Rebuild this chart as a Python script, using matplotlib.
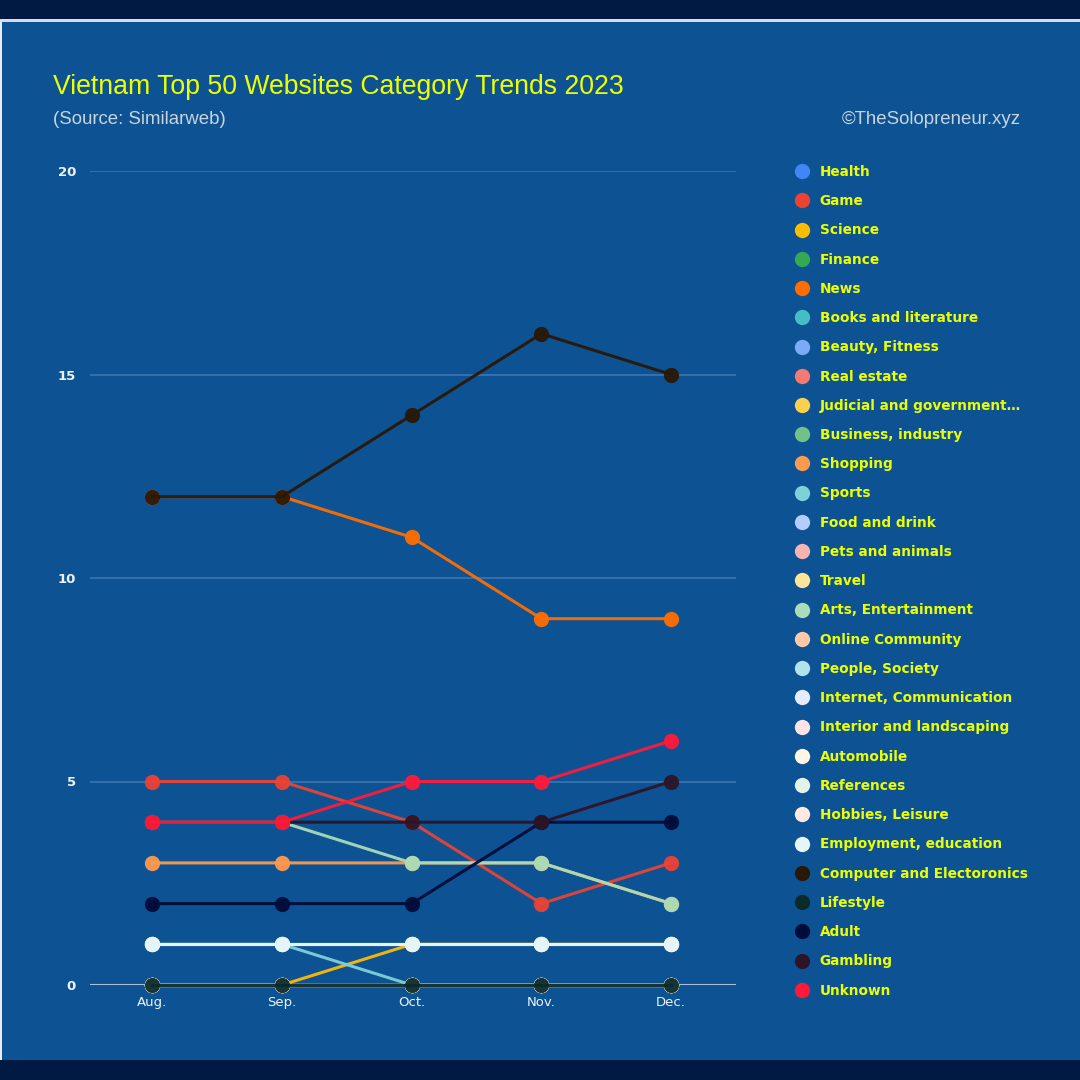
import numpy as np
import matplotlib
matplotlib.use("Agg")
import matplotlib.pyplot as plt
from matplotlib.patches import Rectangle
from matplotlib.lines import Line2D

months = ["Aug.", "Sep.", "Oct.", "Nov.", "Dec."]
categories = [
    "Health", "Game", "Science", "Finance", "News", "Books and literature",
    "Beauty, Fitness", "Real estate", "Judicial and government…", "Business, industry",
    "Shopping", "Sports", "Food and drink", "Pets and animals", "Travel",
    "Arts, Entertainment", "Online Community", "People, Society",
    "Internet, Communication", "Interior and landscaping", "Automobile", "References",
    "Hobbies, Leisure", "Employment, education", "Computer and Electoronics",
    "Lifestyle", "Adult", "Gambling", "Unknown",
]
colors = [
    "#4285f4", "#ea4335", "#fbbc04", "#34a853", "#ff6d01", "#46bdc6",
    "#7baaf7", "#f07b72", "#fcd04f", "#71c287", "#ff994d", "#7ed1d7",
    "#b3cefb", "#f7b4ae", "#fde49b", "#aadcb7", "#ffc8a6", "#b2e2ea",
    "#e3ecfe", "#fce4e6", "#fff6e6", "#e4f3ea", "#ffe9e2", "#e6f6f8",
    "#2a1806", "#0b2a2a", "#000c3a", "#2e1426", "#ff1a3a",
]
values = {
    "Game":                      [5, 5, 4, 2, 3],
    "Science":                   [0, 0, 1, 1, 1],
    "News":                      [12, 12, 11, 9, 9],
    "Shopping":                  [3, 3, 3, 3, 2],
    "Sports":                    [1, 1, 0, 0, 0],
    "Arts, Entertainment":       [4, 4, 3, 3, 2],
    "Internet, Communication":   [1, 1, 1, 1, 1],
    "References":                [1, 1, 1, 1, 1],
    "Employment, education":     [1, 1, 1, 1, 1],
    "Computer and Electoronics": [12, 12, 14, 16, 15],
    "Lifestyle":                 [0, 0, 0, 0, 0],
    "Adult":                     [2, 2, 2, 4, 4],
    "Gambling":                  [4, 4, 4, 4, 5],
    "Unknown":                   [4, 4, 5, 5, 6],
}
y_ticks = [0, 5, 10, 15, 20]

BG = "#0d5394"
DARK = "#001a44"
NARROW = ["Liberation Sans Narrow", "Liberation Sans"]

fig = plt.figure(figsize=(10.8, 10.8), dpi=100, facecolor=BG)
fig.patches.append(Rectangle((0, 1 - 19/1080), 1, 19/1080, transform=fig.transFigure,
                             facecolor=DARK, edgecolor="none", zorder=0))
fig.patches.append(Rectangle((0, 1 - 22/1080), 1, 3/1080, transform=fig.transFigure,
                             facecolor="#d8dde4", edgecolor="none", zorder=0))
fig.patches.append(Rectangle((0, 0), 1, 20/1080, transform=fig.transFigure,
                             facecolor=DARK, edgecolor="none", zorder=0))
fig.patches.append(Rectangle((0, 20/1080), 2/1080, 1 - 42/1080, transform=fig.transFigure,
                             facecolor="#e8edf3", edgecolor="none", zorder=0))

ax = fig.add_axes([90/1080, 95/1080, 646/1080, 814/1080])
ax.set_facecolor(BG)
x = np.arange(len(months))
for i, cat in enumerate(categories):
    vals = values.get(cat, [0, 0, 0, 0, 0])
    ax.plot(x, vals, color=colors[i], lw=2.2, marker="o", markersize=11,
            markeredgewidth=0, zorder=3 + i * 0.01, clip_on=False, alpha=0.95)

ax.set_xlim(-0.48, 4.5)
ax.set_ylim(0, 20)
ax.set_yticks(y_ticks)
ax.set_xticks(x)
ax.set_xticklabels(months)
for s in ax.spines.values():
    s.set_visible(False)
ax.grid(axis="y", color="#3b76b0", lw=1.2, zorder=1)
ax.axhline(0, color="#a8c2de", lw=1.5, zorder=2)
ax.tick_params(length=0, colors="#eef2f7", labelsize=9.5, pad=8)
for lab in ax.get_yticklabels():
    lab.set_fontweight("bold")
ax.tick_params(axis="y", pad=10)

fig.text(53/1080, 1 - 87/1080, "Vietnam Top 50 Websites Category Trends 2023",
         color="#ecff00", fontsize=19.2, va="center", ha="left", family=NARROW)
fig.text(53/1080, 1 - 119/1080, "(Source: Similarweb)", color="#c9d3de",
         fontsize=13.4, va="center", ha="left", family=NARROW)
fig.text(1021/1080, 1 - 119/1080, "©TheSolopreneur.xyz", color="#c9d3de",
         fontsize=13.4, va="center", ha="right", family=NARROW)

handles = [Line2D([], [], color=c, marker="o", linestyle="none", markersize=11,
                  markeredgewidth=0) for c in colors]
leg = fig.legend(handles, categories, loc="upper left",
                 bbox_to_anchor=(789/1080, 1 - 158/1080), frameon=False,
                 prop={"family": "DejaVu Sans", "weight": "bold", "size": 9.8},
                 labelcolor="#ecff00", handlelength=0.85, handletextpad=0.9,
                 labelspacing=1.12, borderpad=0)

fig.savefig("out.png", dpi=100, facecolor=BG)
